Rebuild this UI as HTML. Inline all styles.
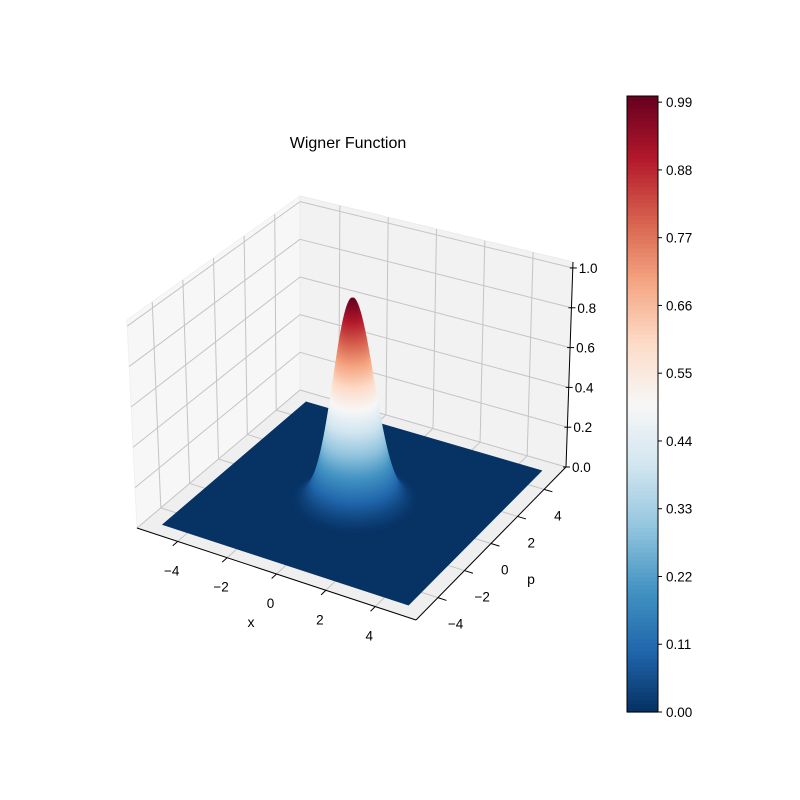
<!DOCTYPE html>
<html><head><meta charset="utf-8"><style>
html,body{margin:0;padding:0;background:#fff;}
svg{display:block;font-family:"Liberation Sans","DejaVu Sans",sans-serif;}
</style></head><body>
<svg id="chart" width="800" height="800" viewBox="0 0 800 800" xmlns="http://www.w3.org/2000/svg">
<rect x="0" y="0" width="800" height="800" fill="#fff"/>
<text x="348" y="148" font-size="16" text-anchor="middle" fill="#000">Wigner Function</text>
<g id="panes"></g>
<g id="grid"></g>
<g id="axes"></g>
<g id="surface"></g>
<g id="labels"></g>
<g id="cbar"></g>
<text x="251" y="627" font-size="14" text-anchor="middle">x</text>
<text x="531" y="584" font-size="14" text-anchor="middle">p</text>
</svg>
<script>
// ---- data ----
const xTicks = [-4, -2, 0, 2, 4];
const pTicks = [-4, -2, 0, 2, 4];
const zTicks = [0.0, 0.2, 0.4, 0.6, 0.8, 1.0];
const zTickLabels = ["0.0", "0.2", "0.4", "0.6", "0.8", "1.0"];
const cbarTicks = [0.00, 0.11, 0.22, 0.33, 0.44, 0.55, 0.66, 0.77, 0.88, 0.99];
const cbarTickLabels = ["0.00","0.11","0.22","0.33","0.44","0.55","0.66","0.77","0.88","0.99"];
const peakCenter = [0, 0];
const peakAmplitude = [1.0];
const peakWidth = [1.0];      // W = A*exp(-(r/width)^2)
const dataExtent = [-5, 5];
const levelCount = [150];
const levelRange = [0, 1.0];

// ---- projection ----
const XL=-5.65, XH=5.65, PL=-5.65, PH=5.65, ZH=1.03;
const C = {
 "000":[137,528],"100":[416,620],"110":[566,467],"010":[300,390],
 "001":[127,320],"101":[410,390],"111":[573,262],"011":[300,196]
};
function proj(x,p,z){
  const u=(x-XL)/(XH-XL), v=(p-PL)/(PH-PL), w=z/ZH;
  let X=0,Y=0;
  for(const a of [0,1])for(const b of [0,1])for(const c of [0,1]){
    const wt=(a?u:1-u)*(b?v:1-v)*(c?w:1-w);
    const pt=C[""+a+b+c]; X+=wt*pt[0]; Y+=wt*pt[1];
  }
  return [X,Y];
}
const NS="http://www.w3.org/2000/svg";
function mk(tag,attrs,parent){const e=document.createElementNS(NS,tag);for(const k in attrs)e.setAttribute(k,attrs[k]);parent.appendChild(e);return e;}
function poly(pts){return pts.map(q=>q[0].toFixed(2)+","+q[1].toFixed(2)).join(" ");}

// colormap RdBu_r
const cmapStops=[[5,48,97],[33,102,172],[67,147,195],[146,197,222],[209,229,240],[247,247,247],[253,219,199],[244,165,130],[214,96,77],[178,24,43],[103,0,31]];
function cmap(t){t=Math.max(0,Math.min(1,t))*10;const i=Math.min(9,Math.floor(t));const f=t-i;const a=cmapStops[i],b=cmapStops[i+1];
 return "rgb("+a.map((c,k)=>Math.round(c+(b[k]-c)*f)).join(",")+")";}

// panes
const panes=document.getElementById("panes");
let e;
e=mk("polygon",{points:poly([proj(XL,PL,0),proj(XH,PL,0),proj(XH,PH,0),proj(XL,PH,0)]),fill:"#efefef",stroke:"#efefef"},panes);

e=mk("polygon",{points:poly([proj(XL,PL,0),proj(XL,PH,0),proj(XL,PH,ZH),proj(XL,PL,ZH)]),fill:"#f7f7f7",stroke:"#f0f0f0"},panes);

e=mk("polygon",{points:poly([proj(XL,PH,0),proj(XH,PH,0),proj(XH,PH,ZH),proj(XL,PH,ZH)]),fill:"#f2f2f2",stroke:"#ebebeb"},panes);


// grid
const grid=document.getElementById("grid");
function gl(a,b,name){const l=mk("line",{x1:a[0],y1:a[1],x2:b[0],y2:b[1],stroke:"#c4c4c4","stroke-width":1},grid);
 }
xTicks.forEach(x=>{gl(proj(x,PH,0),proj(x,PH,ZH),'grid-back-x');gl(proj(x,PL,0),proj(x,PH,0),'grid-floor-x');});
pTicks.forEach(p=>{gl(proj(XL,p,0),proj(XL,p,ZH),'grid-left-p');gl(proj(XL,p,0),proj(XH,p,0),'grid-floor-p');});
zTicks.forEach(z=>{gl(proj(XL,PL,z),proj(XL,PH,z),'grid-left-z');gl(proj(XL,PH,z),proj(XH,PH,z),'grid-back-z');});

// axes
const axes=document.getElementById("axes");
function al(a,b,name){const l=mk("line",{x1:a[0],y1:a[1],x2:b[0],y2:b[1],stroke:"#000","stroke-width":1},axes);
 }
al(proj(XL,PL,0),proj(XH,PL,0),'x-axis-line');
al(proj(XH,PL,0),proj(XH,PH,0),'p-axis-line');
al(proj(XH,PH,0),proj(XH,PH,ZH),'z-axis-line');
const labels=document.getElementById("labels");
function txt(x,y,s,anchor,name){const t=mk("text",{x:x,y:y,"font-size":13.5,"text-anchor":anchor,fill:"#000"},labels);t.textContent=s;
 }
xTicks.forEach(x=>{const a=proj(x,PL,0),b=proj(x,PL-0.35,0);al(a,b,'x-tick');
 txt(a[0]-6,a[1]+34,(x<0?"\u2212":"")+Math.abs(x),"middle",'x-tick-label');});
pTicks.forEach(p=>{const a=proj(XH,p,0),b=proj(XH+0.35,p,0);al(a,b,'p-tick');
 txt(a[0]+10,a[1]+31,(p<0?"\u2212":"")+Math.abs(p),"start",'p-tick-label');});
zTicks.forEach((z,i)=>{const a=proj(XH,PH,z);al([a[0]-3,a[1]],[a[0]+4,a[1]],'z-tick');
 txt(a[0]+6,a[1]+5,zTickLabels[i],"start",'z-tick-label');});

// surface: filled contour bands
const surf=document.getElementById("surface");
const N=levelCount[0];
const levels=[];for(let i=0;i<=N;i++)levels.push(levelRange[0]+(levelRange[1]-levelRange[0])*i/N);
for(let i=0;i<N;i++){
  const lo=levels[i], hi=levels[i+1], mid=(lo+hi)/2;
  const col=cmap((mid-levelRange[0])/(levelRange[1]-levelRange[0]));
  let pts;
  if(lo<=0){
    const d=dataExtent;
    pts=[proj(d[0],d[0],mid),proj(d[1],d[0],mid),proj(d[1],d[1],mid),proj(d[0],d[1],mid)];
  } else {
    if(lo>=peakAmplitude[0])continue;
    const r=peakWidth[0]*Math.sqrt(-Math.log(lo/peakAmplitude[0]));
    pts=[];for(let k=0;k<72;k++){const a=2*Math.PI*k/72;pts.push(proj(peakCenter[0]+r*Math.cos(a),peakCenter[1]+r*Math.sin(a),mid));}
  }
  const pg=mk("polygon",{points:poly(pts),fill:col,stroke:col,"stroke-width":0.5},surf);
  
  
}

// colorbar
const cb=document.getElementById("cbar");
const CBX=627,CBW=31,CBT=96,CBB=712;
function cy(v){return CBB-(v-levelRange[0])/(levelRange[1]-levelRange[0])*(CBB-CBT);}
for(let i=0;i<N;i++){
  const col=cmap(((levels[i]+levels[i+1])/2-levelRange[0])/(levelRange[1]-levelRange[0]));
  const r=mk("rect",{x:CBX,y:cy(levels[i+1]),width:CBW,height:cy(levels[i])-cy(levels[i+1])+0.6,fill:col},cb);
  
  
}
e=mk("rect",{x:CBX,y:CBT,width:CBW,height:CBB-CBT,fill:"none",stroke:"#000","stroke-width":1},cb);

cbarTicks.forEach((v,i)=>{const y=cy(v);
  const l=mk("line",{x1:CBX+CBW,y1:y,x2:CBX+CBW+4,y2:y,stroke:"#000"},cb);
  
  const t=mk("text",{x:CBX+CBW+8,y:y+5,"font-size":13.5,fill:"#000"},cb);t.textContent=cbarTickLabels[i];
  
});
</script>
</body></html>
